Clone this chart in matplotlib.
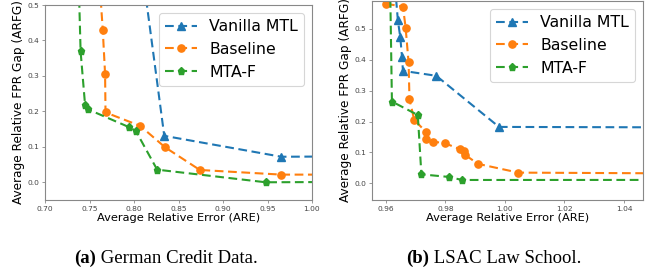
import matplotlib
matplotlib.use("Agg")
import matplotlib.pyplot as plt

# ---- data: (a) German Credit Data ----
a_vanilla_x = [0.8055, 0.834, 0.9655, 1.05]
a_vanilla_y = [0.67, 0.131, 0.072, 0.073]
a_base_x = [0.7603, 0.7649, 0.7675, 0.768, 0.807, 0.835, 0.874, 0.9655, 1.05]
a_base_y = [0.60, 0.430, 0.306, 0.197, 0.159, 0.0985, 0.0347, 0.0216, 0.0216]
a_mtaf_x = [0.7375, 0.740, 0.745, 0.748, 0.794, 0.802, 0.826, 0.948, 1.05]
a_mtaf_y = [0.60, 0.369, 0.2186, 0.206, 0.156, 0.145, 0.0356, 0.0, 0.001]

# ---- data: (b) LSAC Law School ----
b_vanilla_x = [0.9625, 0.964, 0.9648, 0.9654, 0.9657, 0.9769, 0.998, 1.06]
b_vanilla_y = [0.70, 0.527, 0.473, 0.408, 0.364, 0.348, 0.1825, 0.181]
b_base_x = [0.960, 0.9657, 0.9666, 0.9676, 0.9679, 0.9695, 0.9734, 0.9735, 0.9757,
            0.9797, 0.985, 0.9861, 0.9866, 0.9909, 1.0045, 1.06]
b_base_y = [0.581, 0.572, 0.504, 0.391, 0.272, 0.205, 0.167, 0.143, 0.135,
            0.130, 0.110, 0.106, 0.092, 0.063, 0.0346, 0.032]
b_mtaf_x = [0.9613, 0.962, 0.9707, 0.9719, 0.9813, 0.9855, 1.06]
b_mtaf_y = [0.70, 0.2646, 0.221, 0.029, 0.0205, 0.0108, 0.011]

labels = ["Vanilla MTL", "Baseline", "MTA-F"]
a_xticks = [0.70, 0.75, 0.80, 0.85, 0.90, 0.95, 1.00]
a_yticks = [0.0, 0.1, 0.2, 0.3, 0.4, 0.5]
b_xticks = [0.96, 0.98, 1.00, 1.02, 1.04]
b_yticks = [0.0, 0.1, 0.2, 0.3, 0.4, 0.5]
captions = [("(a)", " German Credit Data."), ("(b)", " LSAC Law School.")]

colors = ["#1f77b4", "#ff7f0e", "#2ca02c"]
markers = ["^", "o", "p"]

fig = plt.figure(figsize=(6.45, 2.69), dpi=100)
W, H = 645, 269

def ax_at(x0, y0, x1, y1):
    return fig.add_axes([x0 / W, 1 - y1 / H, (x1 - x0) / W, (y1 - y0) / H])

axA = ax_at(45, 5, 312, 200)
axB = ax_at(372, 1, 643, 200)

def draw(ax, series, xlim, ylim, xticks, yticks, xfmt, yfmt):
    for (xs, ys), c, m, lab in zip(series, colors, markers, labels):
        ax.plot(xs, ys, color=c, marker=m, markersize=5.2, lw=1.5,
                linestyle=(0, (4.2, 2.2)), label=lab)
    ax.set_xlim(*xlim)
    ax.set_ylim(*ylim)
    ax.set_xticks(xticks)
    ax.set_xticklabels([xfmt.format(v) for v in xticks])
    ax.set_yticks(yticks)
    ax.set_yticklabels([yfmt.format(v) for v in yticks])
    ax.tick_params(labelsize=5.4, labelcolor="#444444", color="#888888",
                   length=2.5, width=0.6, pad=1.5)
    for s in ax.spines.values():
        s.set_color("#888888")
        s.set_linewidth(0.8)
    ax.set_xlabel("Average Relative Error (ARE)", fontsize=8.2, labelpad=1)
    ax.set_ylabel("Average Relative FPR Gap (ARFG)", fontsize=8.7, labelpad=1.5)
    leg = ax.legend(loc="upper right", fontsize=11.3, handlelength=2.0,
                    handletextpad=0.8, labelspacing=0.5, borderaxespad=0.5,
                    borderpad=0.4, markerscale=1.0)
    leg.get_frame().set_edgecolor("#cccccc")
    leg.get_frame().set_linewidth(0.8)

draw(axA, [(a_vanilla_x, a_vanilla_y), (a_base_x, a_base_y), (a_mtaf_x, a_mtaf_y)],
     (0.70, 1.00), (-0.05, 0.5), a_xticks, a_yticks, "{:.2f}", "{:.1f}")
draw(axB, [(b_vanilla_x, b_vanilla_y), (b_base_x, b_base_y), (b_mtaf_x, b_mtaf_y)],
     (0.9553, 1.0464), (-0.054, 0.59), b_xticks, b_yticks, "{:.2f}", "{:.1f}")

# captions
fig.canvas.draw()
renderer = fig.canvas.get_renderer()
centers = [166, 494]
for (bold, rest), cx in zip(captions, centers):
    t1 = fig.text(0, 0, bold, fontsize=13.5, fontweight="bold", family="Liberation Serif")
    t2 = fig.text(0, 0, rest, fontsize=13.5, family="Liberation Serif")
    w1 = t1.get_window_extent(renderer).width
    w2 = t2.get_window_extent(renderer).width
    x0 = cx - (w1 + w2) / 2
    yb = 1 - 263 / H
    t1.set_position((x0 / W, yb))
    t2.set_position(((x0 + w1) / W, yb))
    t1.set_va("baseline"); t2.set_va("baseline")

fig.savefig("out.png", dpi=100)
